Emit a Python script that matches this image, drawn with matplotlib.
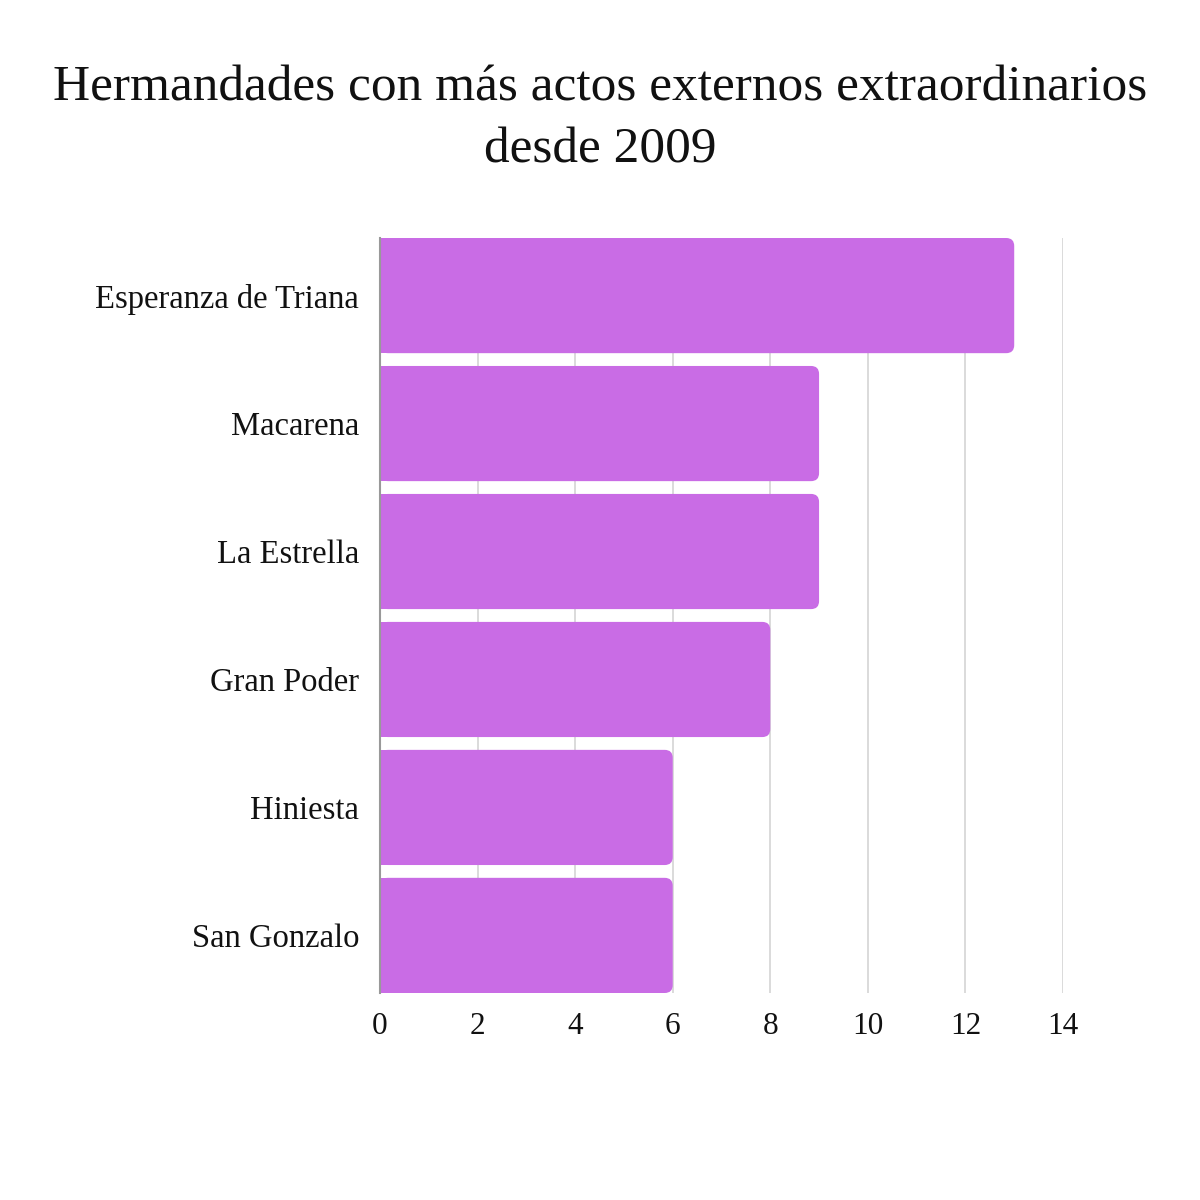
import matplotlib
matplotlib.use("Agg")
import matplotlib.pyplot as plt
from matplotlib.patches import FancyBboxPatch, Rectangle

hermandades = ["Esperanza de Triana", "Macarena", "La Estrella",
               "Gran Poder", "Hiniesta", "San Gonzalo"]
actos = [13, 9, 9, 8, 6, 6]
ticks = [0, 2, 4, 6, 8, 10, 12, 14]

BAR_COLOR = "#C96CE5"
plt.rcParams["font.family"] = ["Liberation Serif", "DejaVu Serif"]

fig = plt.figure(figsize=(12, 12), dpi=100)
ax = fig.add_axes([380 / 1200, 1 - 993 / 1200, 683 / 1200, 755 / 1200])

bars = ax.barh(range(len(hermandades)), actos, height=0.9, color=BAR_COLOR)
ax.set_xlim(0, 14)
ax.set_ylim(len(hermandades) - 0.55, -0.45)

# swap plain bars for ones with rounded right corners
px_x = 683 / 14
px_y = 755 / 5.9
for b in bars:
    x, y, w, h = b.get_x(), b.get_y(), b.get_width(), b.get_height()
    b.set_visible(False)
    r = 8 / px_x
    ax.add_patch(FancyBboxPatch((x, y), w, h,
                                boxstyle=f"round,pad=0,rounding_size={r}",
                                mutation_aspect=px_x / px_y,
                                facecolor=BAR_COLOR, edgecolor="none", zorder=3))
    ax.add_patch(Rectangle((x, y), w / 2, h, facecolor=BAR_COLOR,
                           edgecolor="none", zorder=3))

ax.set_xticks(ticks)
ax.set_xticklabels([str(t) for t in ticks], fontsize=22.5, color="#111111")
ax.set_yticks(range(len(hermandades)))
ax.set_yticklabels(hermandades, fontsize=23.5, color="#111111")
ax.tick_params(axis="both", length=0)
ax.tick_params(axis="y", pad=15)
ax.tick_params(axis="x", pad=14)

ax.grid(axis="x", color="#d4d4d4", linewidth=1.2, zorder=0)
ax.set_axisbelow(True)
for side in ["top", "right", "bottom"]:
    ax.spines[side].set_visible(False)
ax.spines["left"].set_color("#999999")
ax.spines["left"].set_linewidth(1.5)
ax.spines["left"].set_zorder(4)

fig.text(0.5, 1 - 88 / 1200,
         "Hermandades con más actos externos extraordinarios",
         ha="center", va="center", fontsize=37, color="#111111")
fig.text(0.5, 1 - 150 / 1200, "desde 2009",
         ha="center", va="center", fontsize=37, color="#111111")

fig.savefig("out.png", dpi=100, facecolor="white")
